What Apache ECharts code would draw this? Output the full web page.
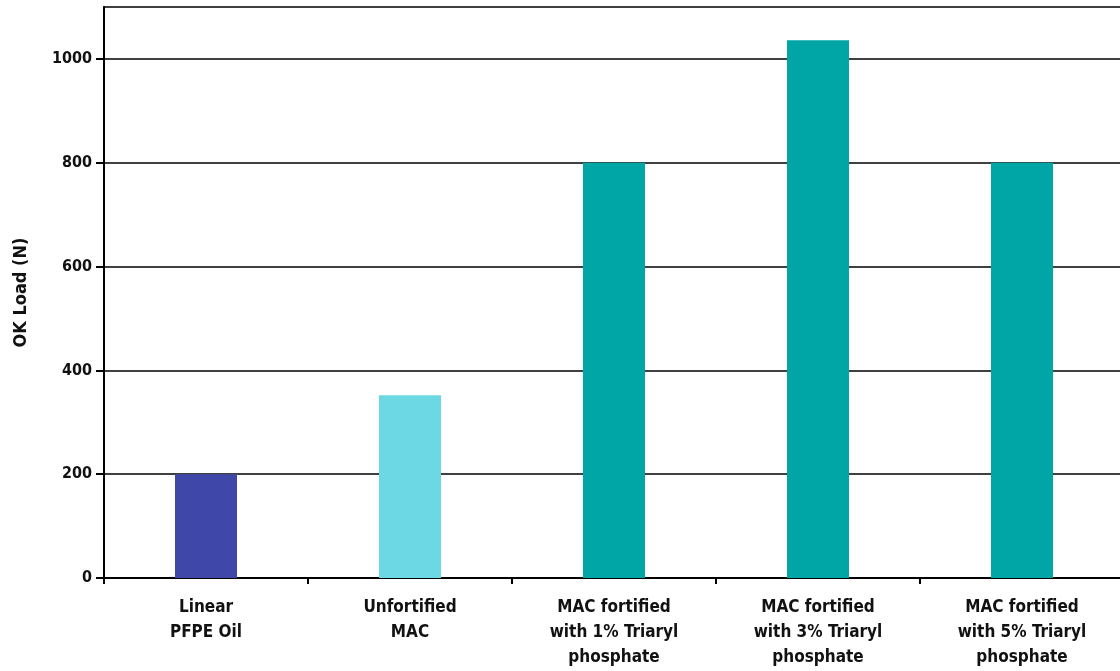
<!DOCTYPE html>
<html>
<head>
<meta charset="utf-8">
<script src="https://cdn.jsdelivr.net/npm/echarts@6/dist/echarts.min.js"></script>
<style>
  html, body { margin: 0; padding: 0; background: #fff; }
  #main { width: 1120px; height: 671px; }
</style>
</head>
<body>
<div id="main"></div>
<script>
// 数据
var categories = [
  'Linear\nPFPE Oil',
  'Unfortified\nMAC',
  'MAC fortified\nwith 1% Triaryl\nphosphate',
  'MAC fortified\nwith 3% Triaryl\nphosphate',
  'MAC fortified\nwith 5% Triaryl\nphosphate'
];
var okLoad = [200, 352, 800, 1036, 800];
var barColors = ['#3F47A8', '#6BD8E4', '#00A6A6', '#00A6A6', '#00A6A6'];
var yTicks = [0, 200, 400, 600, 800, 1000];

var font = "'Liberation Sans Narrow', 'DejaVu Sans Condensed', Arial, sans-serif";

var chart = echarts.init(document.getElementById('main'));
var option = {
  backgroundColor: '#fff',
  animation: false,
  grid: {
    left: 104, width: 1020, top: 7, bottom: 93, containLabel: false,
    outerBoundsMode: 'none',
    show: true, borderColor: '#000', borderWidth: 1.5, backgroundColor: 'transparent'
  },
  xAxis: {
    type: 'category',
    data: categories,
    axisLine: { lineStyle: { color: '#000', width: 2 } },
    axisTick: { show: true, length: 6, lineStyle: { color: '#000', width: 2 } },
    axisLabel: {
      interval: 0,
      margin: 17,
      color: '#111',
      fontFamily: font,
      fontWeight: 'bold',
      fontSize: 17,
      lineHeight: 25
    }
  },
  yAxis: {
    type: 'value',
    min: 0,
    max: 1100,
    interval: 200,
    name: 'OK Load (N)',
    nameLocation: 'middle',
    nameGap: 74,
    nameTextStyle: { color: '#111', fontFamily: font, fontWeight: 'bold', fontSize: 18 },
    axisLine: { show: true, lineStyle: { color: '#000', width: 2 } },
    axisTick: {
      show: true, inside: false, length: 8,
      customValues: yTicks,
      lineStyle: { color: '#000', width: 2 }
    },
    axisLabel: {
      margin: 12,
      color: '#111',
      fontFamily: font,
      fontWeight: 'bold',
      fontSize: 16,
      customValues: yTicks,
      formatter: function(v) { return String(v); }
    },
    splitLine: { show: true, lineStyle: { color: '#000', width: 1.5 } }
  },
  series: [{
    name: 'OK Load',
    type: 'bar',
    barWidth: 62,
    data: okLoad.map(function(v, i) {
      return { value: v, itemStyle: { color: barColors[i] } };
    })
  }]
};
chart.setOption(option);
</script>
</body>
</html>
